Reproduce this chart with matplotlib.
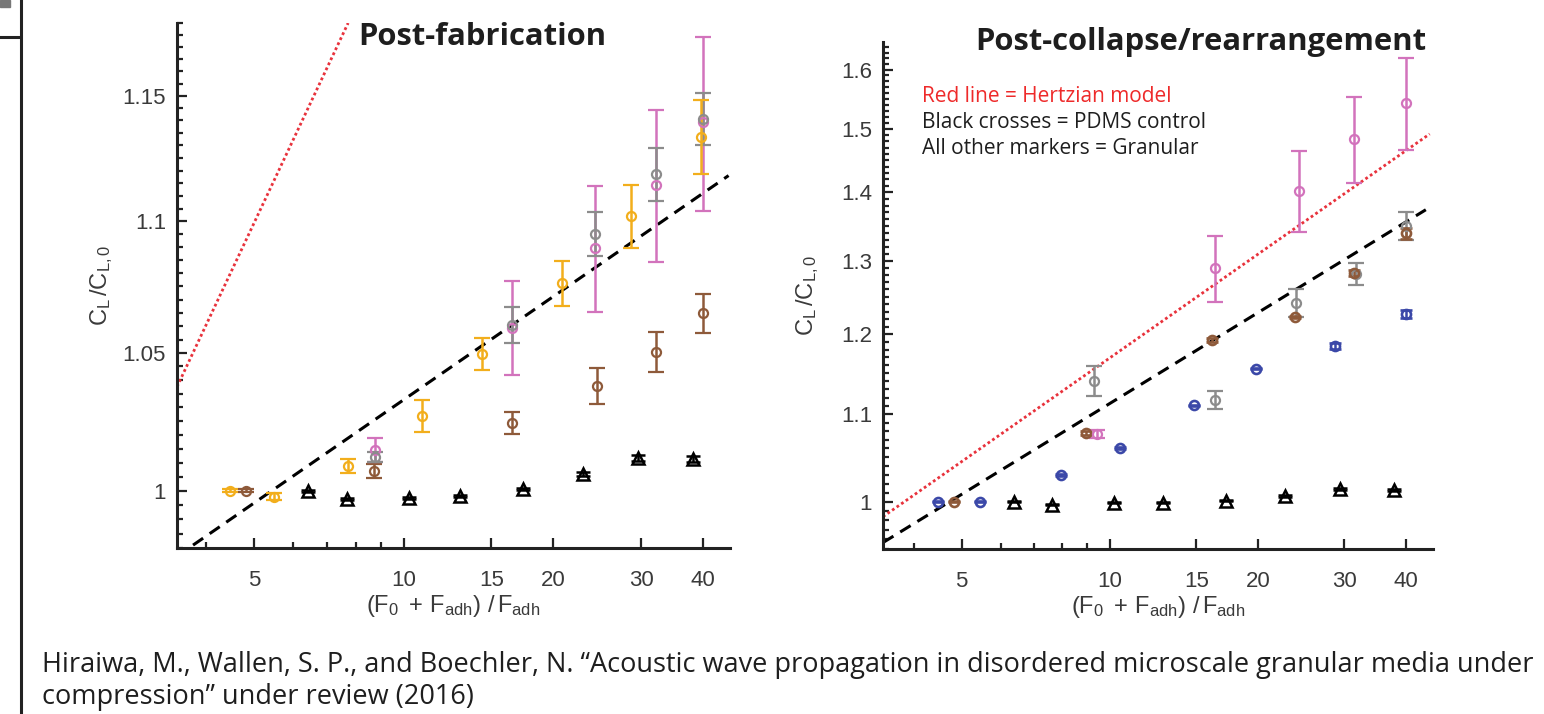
import matplotlib
matplotlib.use("Agg")
import matplotlib.pyplot as plt
from matplotlib.ticker import FixedLocator, NullFormatter, FixedFormatter
import numpy as np

plt.rcParams['font.family'] = ['Liberation Sans', 'DejaVu Sans']
plt.rcParams['mathtext.fontset'] = 'custom'
plt.rcParams['mathtext.rm'] = 'Liberation Sans'
plt.rcParams['mathtext.it'] = 'Liberation Sans'

# ---------------- data: post-fabrication ----------------
pf_yellow_x = [4.48, 5.48, 7.72, 10.87, 14.36, 20.78, 28.6, 39.6]
pf_yellow_y = [1.000, 0.998, 1.0089, 1.0269, 1.0496, 1.0763, 1.102, 1.1334]
pf_yellow_e = [0.0005, 0.0012, 0.0024, 0.0058, 0.0059, 0.0086, 0.0121, 0.0148]

pf_gray_x = [8.75, 16.5, 24.2, 32.2, 40.0]
pf_gray_y = [1.0121, 1.0605, 1.0951, 1.1185, 1.1405]
pf_gray_e = [0.0018, 0.0067, 0.0085, 0.0105, 0.0105]

pf_pink_x = [8.75, 16.5, 24.2, 32.2, 40.0]
pf_pink_y = [1.0146, 1.0595, 1.0897, 1.1143, 1.1392]
pf_pink_e = [0.0043, 0.0176, 0.0242, 0.0300, 0.0350]

pf_brown_x = [4.82, 8.7, 16.5, 24.5, 32.2, 40.0]
pf_brown_y = [1.000, 1.0071, 1.0243, 1.0378, 1.0504, 1.0649]
pf_brown_e = [0.0005, 0.0025, 0.0041, 0.0066, 0.0074, 0.0073]

pf_pdms_x = [6.42, 7.69, 10.24, 12.96, 17.4, 22.9, 29.6, 38.2]
pf_pdms_y = [1.000, 0.9972, 0.9975, 0.9982, 1.0007, 1.006, 1.0117, 1.0114]
pf_pdms_e = [0.0004, 0.0004, 0.0005, 0.0004, 0.0004, 0.0006, 0.0011, 0.0011]

pf_hertz_x = [3.5, 7.73]
pf_hertz_y = [1.0375, 1.18]
pf_fit_x = [3.77, 45.0]
pf_fit_y = [0.981, 1.118]

# ---------------- data: post-collapse ----------------
pc_blue_x = [4.47, 5.46, 7.96, 10.48, 14.85, 19.8, 28.7, 40.0]
pc_blue_y = [1.000, 1.000, 1.0296, 1.0601, 1.1105, 1.1559, 1.1849, 1.2266]
pc_blue_e = [0.0005, 0.0005, 0.0008, 0.0008, 0.001, 0.001, 0.0038, 0.0053]

pc_brown_x = [4.82, 8.94, 16.1, 23.8, 31.4, 40.0]
pc_brown_y = [1.000, 1.0775, 1.1926, 1.2227, 1.2823, 1.339]
pc_brown_e = [0.0005, 0.0023, 0.0026, 0.0013, 0.004, 0.008]

pc_gray_x = [9.29, 16.4, 23.9, 31.6, 40.0]
pc_gray_y = [1.141, 1.1167, 1.2413, 1.281, 1.3506]
pc_gray_e = [0.0185, 0.0109, 0.0188, 0.0152, 0.0204]

pc_pink_x = [9.4, 16.4, 24.3, 31.4, 40.1]
pc_pink_y = [1.0763, 1.289, 1.403, 1.484, 1.543]
pc_pink_e = [0.0047, 0.046, 0.062, 0.069, 0.077]

pc_pdms_x = [6.4, 7.64, 10.2, 12.86, 17.2, 22.7, 29.4, 37.8]
pc_pdms_y = [1.000, 0.9968, 0.999, 0.999, 1.001, 1.0065, 1.0141, 1.013]
pc_pdms_e = [0.0005, 0.0005, 0.0005, 0.0005, 0.0005, 0.001, 0.0015, 0.0015]

pc_hertz_x = [3.46, 44.7]
pc_hertz_y = [0.984, 1.492]
pc_fit_x = [3.46, 43.9]
pc_fit_y = [0.9567, 1.374]

x_major = [5, 10, 15, 20, 30, 40]
x_minor = [4, 6, 7, 8, 9]
pf_y_major = [1.0, 1.05, 1.1, 1.15]
pf_y_labels = ['1', '1.05', '1.1', '1.15']
pc_y_major = [1.0, 1.1, 1.2, 1.3, 1.4, 1.5, 1.6]
pc_y_labels = ['1', '1.1', '1.2', '1.3', '1.4', '1.5', '1.6']

YELLOW = '#F2AE1C'
GRAY = '#8C8C8C'
PINK = '#D273BC'
BROWN = '#8E5A3A'
BLUE = '#3B48A8'
RED = '#E8323C'

W, H = 1544, 714
fig = plt.figure(figsize=(W / 100, H / 100), dpi=100)


def px_axes(x0, y0, x1, y1):
    return fig.add_axes([x0 / W, 1 - y1 / H, (x1 - x0) / W, (y1 - y0) / H])


def series(ax, x, y, e, color, marker='o', ms=6.5, mew=1.6, cap=5.5):
    ax.errorbar(x, y, yerr=e, fmt=marker, color=color, mfc='none', mec=color,
                ms=ms, mew=mew, elinewidth=1.8, capsize=cap, capthick=1.8,
                zorder=3)


def style(ax, xlim, ylim, ymaj, ylab, yminor):
    ax.set_xscale('log')
    ax.set_yscale('log')
    ax.set_xlim(*xlim)
    ax.set_ylim(*ylim)
    for s in ('top', 'right'):
        ax.spines[s].set_visible(False)
    for s in ('left', 'bottom'):
        ax.spines[s].set_linewidth(2.2)
        ax.spines[s].set_color('#222222')
    ax.xaxis.set_major_locator(FixedLocator(x_major))
    ax.xaxis.set_major_formatter(FixedFormatter([str(v) for v in x_major]))
    ax.xaxis.set_minor_locator(FixedLocator(x_minor))
    ax.xaxis.set_minor_formatter(NullFormatter())
    ax.yaxis.set_major_locator(FixedLocator(ymaj))
    ax.yaxis.set_major_formatter(FixedFormatter(ylab))
    ax.yaxis.set_minor_locator(FixedLocator(yminor))
    ax.yaxis.set_minor_formatter(NullFormatter())
    ax.tick_params(which='both', direction='in', color='#222222', width=1.6,
                   labelsize=16, labelcolor='#3a3a3a')
    ax.tick_params(axis='y', pad=8)
    ax.tick_params(axis='x', pad=16)
    ax.tick_params(which='major', length=7)
    ax.tick_params(which='minor', length=4.5)
    ax.set_xlabel(r'$\mathregular{(F_0\ +\,F_{adh})\ /\,F_{adh}}$',
                  fontsize=17, color='#3a3a3a', labelpad=1)
    ax.set_ylabel(r'$\mathregular{C_L\,/C_{L,0}}$', fontsize=17,
                  color='#3a3a3a')
    ax.yaxis.set_label_coords(-0.112, 0.5)


# ---------------- left: post-fabrication ----------------
ax1 = px_axes(177, 23, 730, 548)
style(ax1, (3.5, 45.3), (0.980, 1.180), pf_y_major, pf_y_labels,
      np.round(np.arange(0.98, 1.1801, 0.005), 3))
ax1.plot(pf_hertz_x, pf_hertz_y, ls=(0, (1, 1)), color=RED, lw=2.0, zorder=2)
ax1.plot(pf_fit_x, pf_fit_y, ls=(0, (4, 2.6)), color='black', lw=2.2, zorder=2)
series(ax1, pf_pdms_x, pf_pdms_y, pf_pdms_e, 'black', marker='^', ms=9, mew=1.8, cap=5)
series(ax1, pf_brown_x, pf_brown_y, pf_brown_e, BROWN)
series(ax1, pf_pink_x, pf_pink_y, pf_pink_e, PINK)
series(ax1, pf_gray_x, pf_gray_y, pf_gray_e, GRAY)
series(ax1, pf_yellow_x, pf_yellow_y, pf_yellow_e, YELLOW)

# ---------------- right: post-collapse ----------------
ax2 = px_axes(883, 42, 1433, 549)
style(ax2, (3.46, 45.4), (0.950, 1.649), pc_y_major, pc_y_labels,
      np.round(np.arange(0.95, 1.6501, 0.01), 3))
ax2.plot(pc_hertz_x, pc_hertz_y, ls=(0, (1, 1)), color=RED, lw=2.0, zorder=2)
ax2.plot(pc_fit_x, pc_fit_y, ls=(0, (4, 2.6)), color='black', lw=2.2, zorder=2)
series(ax2, pc_pdms_x, pc_pdms_y, pc_pdms_e, 'black', marker='^', ms=9, mew=1.8, cap=5)
series(ax2, pc_blue_x, pc_blue_y, pc_blue_e, BLUE, mew=1.9, cap=4.5)
series(ax2, pc_gray_x, pc_gray_y, pc_gray_e, GRAY)
series(ax2, pc_brown_x, pc_brown_y, pc_brown_e, BROWN, mew=1.9, cap=4.5)
series(ax2, pc_pink_x, pc_pink_y, pc_pink_e, PINK)

# ---------------- slide text ----------------
title_kw = dict(fontsize=22.3, fontweight='bold', color='#1e1e1e',
                family=['Open Sans', 'DejaVu Sans'], va='center', ha='left')
fig.text(358 / W, 1 - 37 / H, 'Post-fabrication', **title_kw)
fig.text(975 / W, 1 - 42 / H, 'Post-collapse/rearrangement', **title_kw)

note_kw = dict(fontsize=15, family=['Open Sans', 'DejaVu Sans'], va='center', ha='left')
fig.text(922 / W, 1 - 96 / H, 'Red line = Hertzian model', color='#EE2A2A', **note_kw)
fig.text(922 / W, 1 - 122 / H, 'Black crosses = PDMS control', color='#1e1e1e', **note_kw)
fig.text(922 / W, 1 - 149 / H, 'All other markers = Granular', color='#1e1e1e', **note_kw)

cap_kw = dict(fontsize=19.5, family=['Open Sans', 'DejaVu Sans'], va='center', ha='left',
              color='#1e1e1e')
fig.text(42 / W, 1 - 665 / H,
         'Hiraiwa, M., Wallen, S. P., and Boechler, N. \u201cAcoustic wave propagation '
         'in disordered microscale granular media under', **cap_kw)
fig.text(42 / W, 1 - 697 / H, 'compression\u201d under review (2016)', **cap_kw)

# slide frame pieces at the left edge
fig.add_artist(plt.Line2D([20.5 / W, 20.5 / W], [0, 1], color='#222222', lw=2.2))
fig.add_artist(plt.Line2D([0, 20 / W], [1 - 37 / H, 1 - 37 / H], color='#222222', lw=2.2))
fig.add_artist(plt.Rectangle((0, 1 - 7 / H), 10 / W, 7 / H, color='#777777'))

fig.savefig('out.png', dpi=100)
